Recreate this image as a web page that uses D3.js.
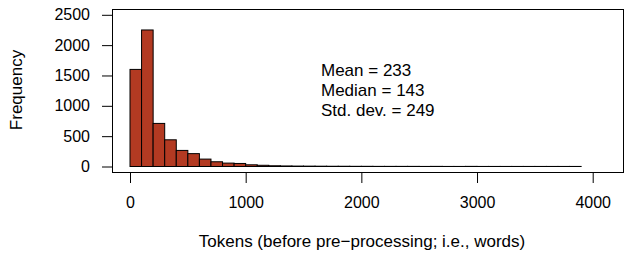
<!DOCTYPE html>
<html>
<head>
<meta charset="utf-8">
<script src="https://cdn.jsdelivr.net/npm/d3@7"></script>
<style>
  body { margin: 0; background: #fff; }
  svg { display: block; font-family: 'Liberation Sans', Arial, Helvetica, sans-serif; }
</style>
</head>
<body>
<svg id="chart" width="626" height="256"></svg>
<script>
// Histogram bins of width 100, starting at 0
const binStarts = d3.range(0, 3900, 100);
const binCounts = [1600, 2250, 710, 440, 265, 212, 122, 78, 56, 50,
                   28, 20, 12, 9, 7, 6, 5, 4, 4, 3,
                   3, 2, 2, 2, 2, 1, 2, 1, 1, 2,
                   1, 1, 1, 1, 1, 1, 1, 1, 1];
const xTicks = [0, 1000, 2000, 3000, 4000];
const yTicks = [0, 500, 1000, 1500, 2000, 2500];
const statLines = ['Mean = 233', 'Median = 143', 'Std. dev. = 249'];

const barFill = '#b33a22';

function renderHistogram() {
    const svg = d3.select('#chart');
    const tickSize = 16;
    const labelSize = 17;

    const x = d3.scaleLinear().domain([0, 4000]).range([130, 592.7]);
    const y = d3.scaleLinear().domain([0, 2500]).range([166.5, 14.8]);

    // Bars
    svg.append('g').selectAll('rect')
        .data(binStarts).enter().append('rect')
        .attr('x', d => x(d))
        .attr('width', d => x(d + 100) - x(d))
        .attr('y', (d, i) => y(binCounts[i]))
        .attr('height', (d, i) => y(0) - y(binCounts[i]))
        .attr('fill', barFill)
        .attr('stroke', '#000')
        .attr('stroke-width', 1);

    // Box
    svg.append('rect')
        .attr('x', 112.5).attr('y', 9.5)
        .attr('width', 511).attr('height', 163)
        .attr('fill', 'none')
        .attr('stroke', '#000')
        .attr('stroke-width', 1);

    // X axis
    const xAxis = d3.axisBottom(x).tickValues(xTicks).tickSize(10).tickPadding(14).tickFormat(d3.format('d'));
    const gx = svg.append('g').attr('transform', 'translate(0,173)').call(xAxis);
    gx.select('.domain').remove();
    gx.selectAll('text').attr('font-size', tickSize).attr('font-family', null).attr('fill', '#000');

    // Y axis
    const yAxis = d3.axisLeft(y).tickValues(yTicks).tickSize(10).tickPadding(12).tickFormat(d3.format('d'));
    const gy = svg.append('g').attr('transform', 'translate(112,0)').call(yAxis);
    gy.select('.domain').remove();
    gy.selectAll('text').attr('font-size', tickSize).attr('font-family', null).attr('fill', '#000');

    // Axis titles
    svg.append('text')
        .attr('x', 362).attr('y', 247)
        .attr('text-anchor', 'middle')
        .attr('font-size', labelSize)
        .text('Tokens (before pre\u2212processing; i.e., words)');

    svg.append('text')
        .attr('transform', 'translate(22,90) rotate(-90)')
        .attr('text-anchor', 'middle')
        .attr('font-size', labelSize)
        .text('Frequency');

    // Summary statistics
    svg.append('g').selectAll('text')
        .data(statLines).enter().append('text')
        .attr('x', 321)
        .attr('y', (d, i) => 76 + i * 20)
        .attr('font-size', labelSize)
        .text(d => d);
}

renderHistogram();
</script>
</body>
</html>
